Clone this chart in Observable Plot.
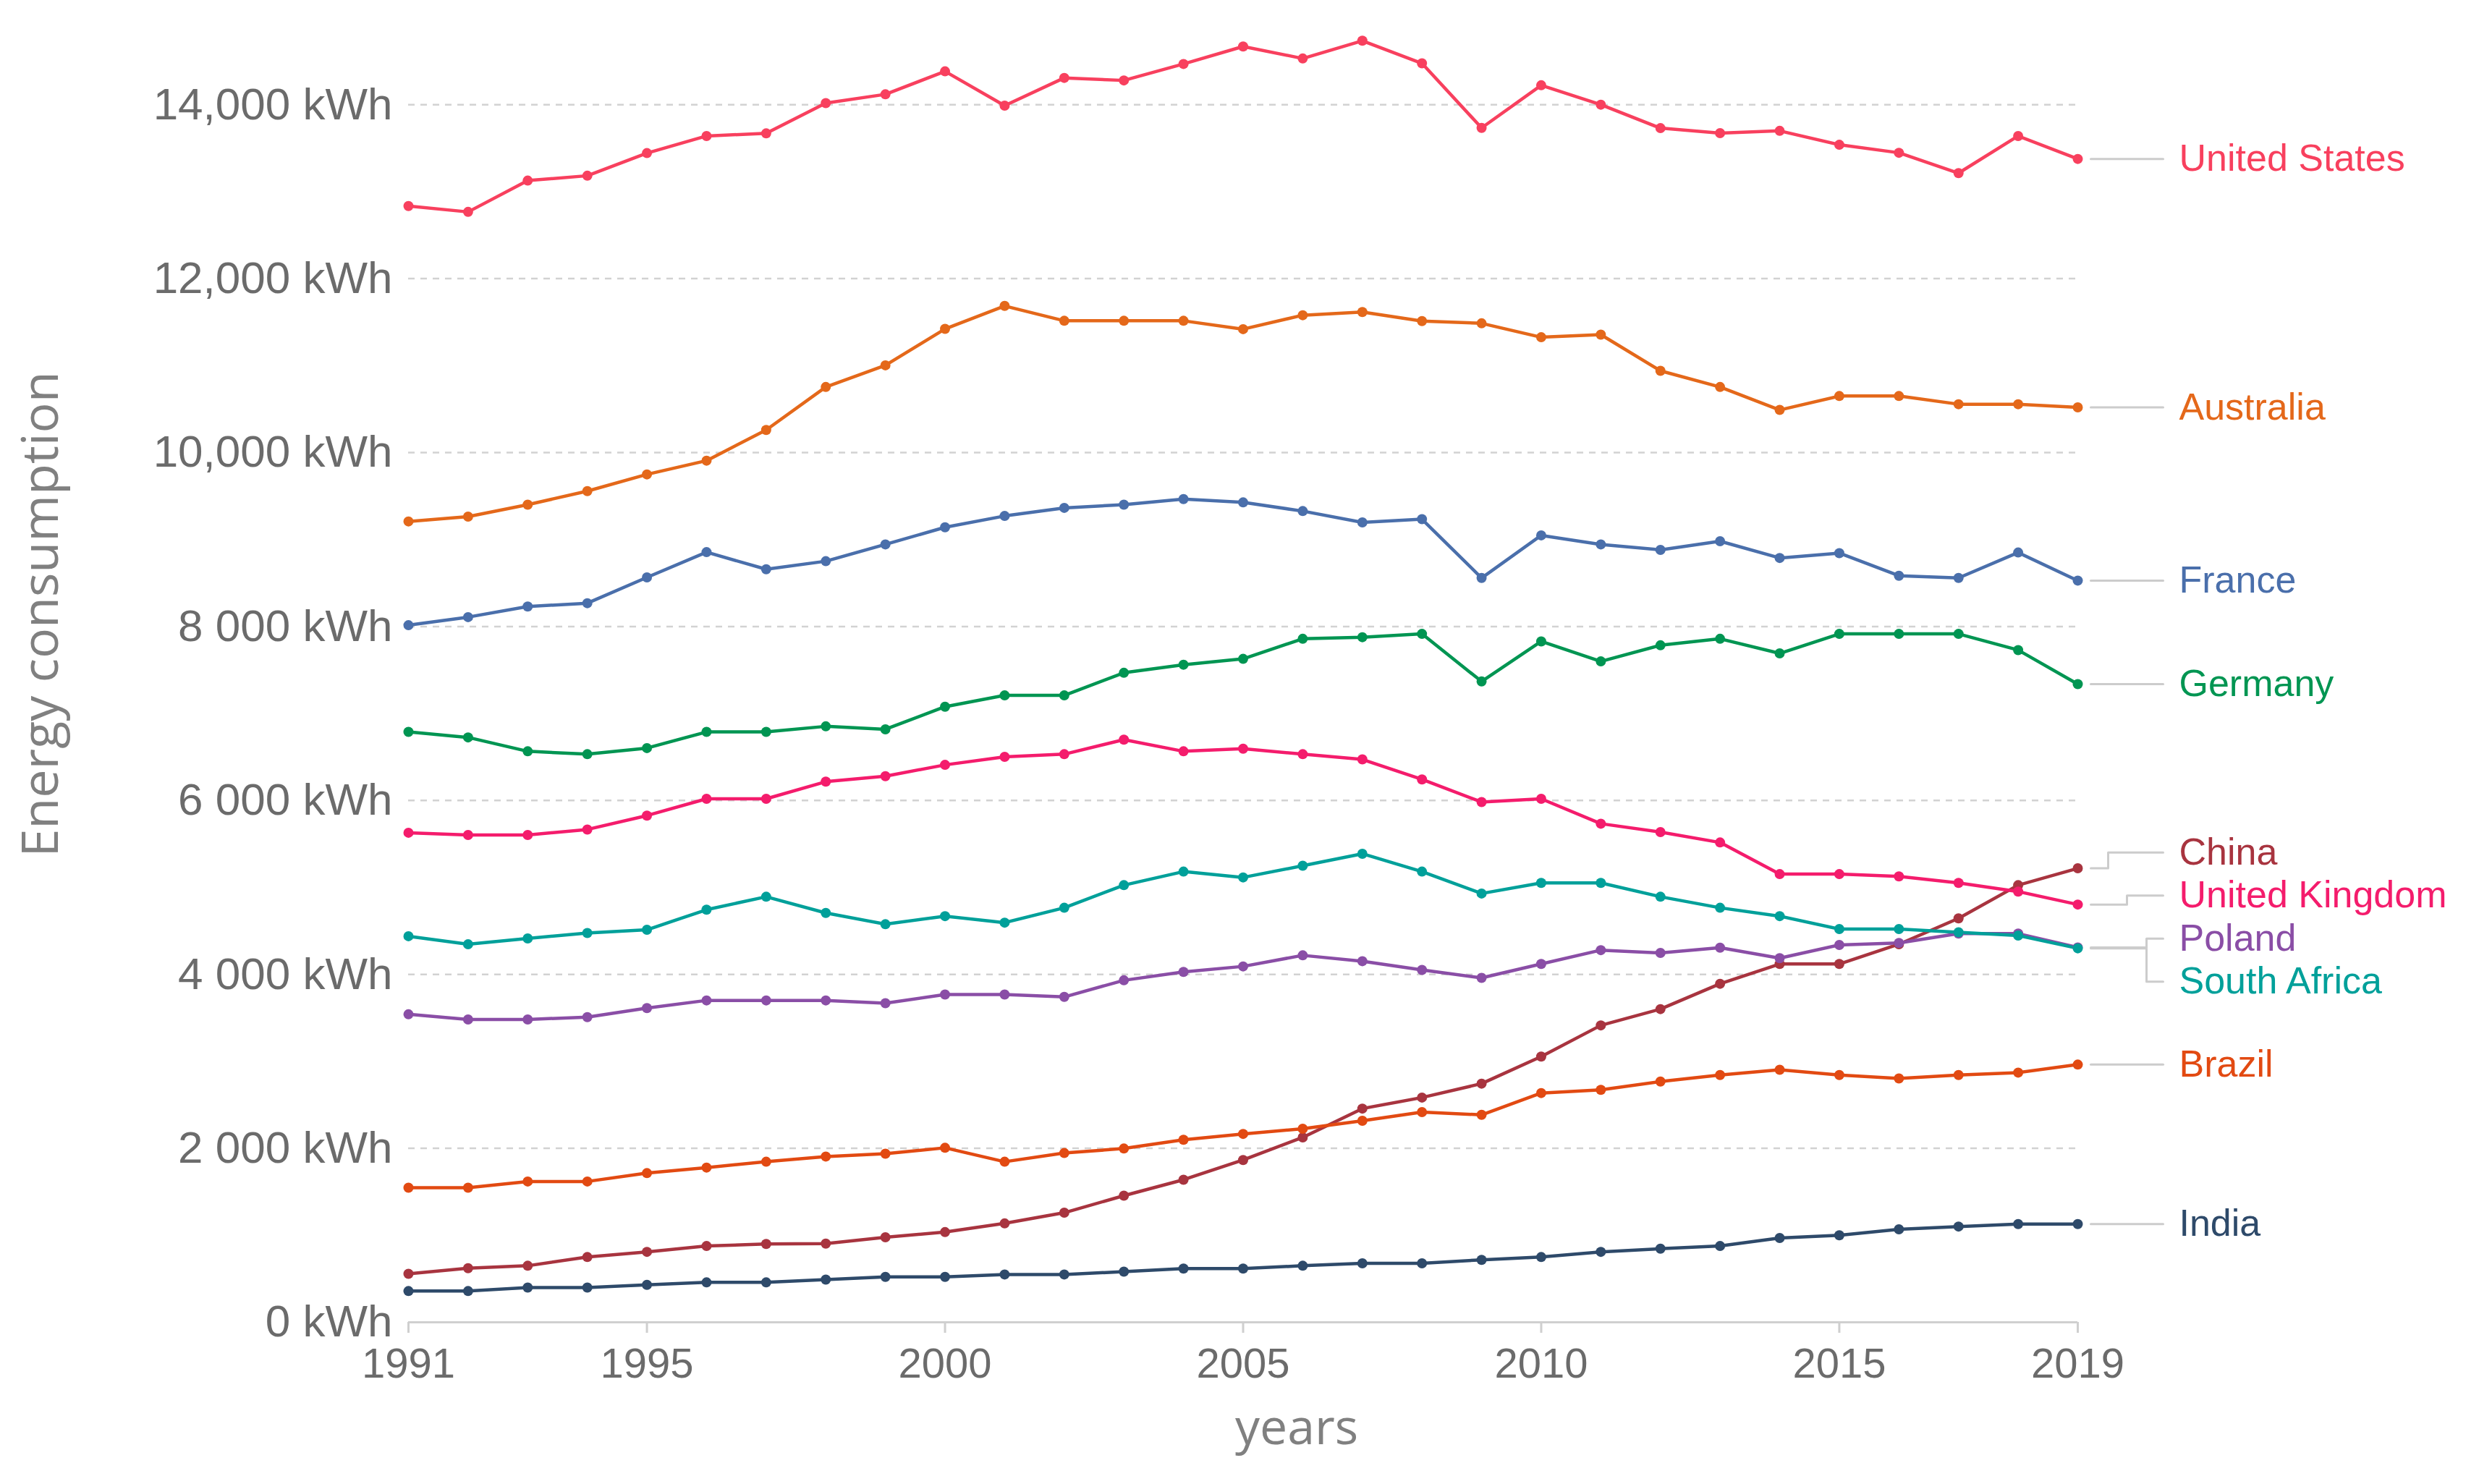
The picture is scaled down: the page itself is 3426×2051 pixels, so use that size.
<!DOCTYPE html>
<html>
<head>
<meta charset="utf-8">
<script src="https://cdn.jsdelivr.net/npm/d3@7"></script>
<script src="https://cdn.jsdelivr.net/npm/@observablehq/plot@0.6"></script>
<style>
  html, body { margin: 0; padding: 0; background: #ffffff; }
  #chart svg { display: block; }
</style>
</head>
<body>
<div id="chart"></div>
<script>
// ---------- data ----------
const years = [1991,1992,1993,1994,1995,1996,1997,1998,1999,2000,2001,2002,2003,2004,2005,2006,2007,2008,2009,2010,2011,2012,2013,2014,2015,2016,2017,2018,2019];

const countries = ["United States","Australia","France","Germany","China","United Kingdom","Poland","South Africa","Brazil","India"];
const colors    = ["#f8405e","#e4681a","#4a6fab","#009552","#a8343f","#f41c6c","#8a4ea6","#00a09a","#e24a12","#2e4a6a"];

const unitedStates = [12834,12767,13127,13183,13443,13640,13670,14018,14119,14383,13989,14308,14279,14468,14669,14531,14735,14475,13733,14223,14000,13730,13673,13699,13539,13447,13213,13640,13376];
const australia    = [9208,9264,9401,9557,9749,9907,10260,10754,11003,11422,11686,11515,11515,11515,11419,11579,11616,11512,11486,11326,11356,10940,10754,10490,10650,10650,10556,10556,10520];
const france       = [8015,8108,8230,8268,8565,8855,8658,8751,8944,9141,9271,9364,9401,9465,9427,9327,9197,9234,8558,9048,8944,8881,8981,8788,8844,8584,8558,8851,8528];
const germany      = [6788,6725,6565,6532,6602,6788,6788,6852,6818,7078,7208,7208,7468,7561,7628,7859,7877,7915,7368,7829,7599,7784,7859,7691,7915,7915,7915,7729,7338];
const china        = [558,622,650,750,810,877,901,905,977,1037,1137,1260,1456,1639,1866,2126,2457,2584,2744,3055,3414,3601,3892,4120,4120,4347,4644,5026,5220];
const unitedKingdom= [5629,5603,5603,5666,5826,6019,6019,6216,6279,6409,6502,6532,6699,6565,6595,6532,6472,6242,5982,6019,5733,5636,5517,5153,5153,5127,5052,4952,4803];
const poland       = [3541,3482,3482,3509,3613,3701,3701,3701,3669,3769,3769,3741,3932,4028,4092,4219,4152,4052,3960,4120,4279,4247,4307,4187,4339,4362,4469,4469,4310];
const southAfrica  = [4439,4346,4413,4476,4513,4744,4893,4707,4577,4670,4595,4766,5026,5182,5115,5249,5387,5182,4930,5052,5052,4893,4766,4670,4521,4521,4484,4447,4300];
const brazil       = [1547,1547,1619,1619,1715,1779,1846,1906,1938,2006,1846,1946,1998,2098,2166,2225,2317,2417,2385,2636,2672,2768,2843,2903,2843,2804,2843,2871,2963];
const india        = [359,359,399,399,431,459,459,491,522,522,550,550,582,618,618,650,678,678,718,750,810,846,877,969,1001,1069,1101,1129,1129];

const seriesValues = [unitedStates, australia, france, germany, china, unitedKingdom, poland, southAfrica, brazil, india];

const yTicks = [0,2000,4000,6000,8000,10000,12000,14000];
const yTickLabels = ["0 kWh","2 000 kWh","4 000 kWh","6 000 kWh","8 000 kWh","10,000 kWh","12,000 kWh","14,000 kWh"];
const xTicks = [1991,1995,2000,2005,2010,2015,2019];

// ---------- layout ----------
const W = 3426, H = 2051;
const mL = 564, mR = 555, mT = 48, mB = 224;
const pxPerYear = (W - mL - mR) / (years[years.length-1] - years[0]);
const lastYear = years[years.length-1];
const gapKWh = 495;

// long data
const data = [];
countries.forEach((c, i) => {
  seriesValues[i].forEach((v, j) => data.push({country: c, year: years[j], value: v}));
});

// end labels with dodge
const ends = countries.map((c, i) => ({country: c, color: colors[i], end: seriesValues[i][seriesValues[i].length-1]}))
  .sort((a, b) => b.end - a.end);
let groups = ends.map(d => ({members: [d]}));
function center(g) { return d3.mean(g.members, d => d.end); }
let changed = true;
while (changed) {
  changed = false;
  for (let k = 0; k < groups.length - 1; k++) {
    const a = groups[k], b = groups[k+1];
    const aBottom = center(a) - (a.members.length - 1) * gapKWh / 2;
    const bTop = center(b) + (b.members.length - 1) * gapKWh / 2;
    if (aBottom - bTop < gapKWh) {
      groups.splice(k, 2, {members: a.members.concat(b.members)});
      changed = true;
      break;
    }
  }
}
const labels = [];
groups.forEach(g => {
  const c = center(g), n = g.members.length;
  g.members.forEach((d, r) => {
    labels.push({...d, label: c + ((n - 1) / 2 - r) * gapKWh, rank: r, n});
  });
});

// connectors (offsets in px converted to years through the x scale's resolution)
const startPx = 18, endPx = 118, textPx = 140;
const elbowPx = [42, 68, 95];
const conn = [];
labels.forEach(d => {
  const e = elbowPx[Math.min(d.rank, 2)];
  const pts = (d.n > 1)
    ? [[startPx, d.end], [e, d.end], [e, d.label], [endPx, d.label]]
    : [[startPx, d.end], [endPx, d.label]];
  pts.forEach(([px, v]) => conn.push({country: d.country, x: lastYear + px / pxPerYear, y: v}));
});

const chart = Plot.plot({
  width: W,
  height: H,
  marginLeft: mL,
  marginRight: mR,
  marginTop: mT,
  marginBottom: mB,
  style: {fontFamily: "'Liberation Sans', Arial, sans-serif", background: "#ffffff", overflow: "visible"},
  x: {domain: [years[0], lastYear], label: null},
  y: {domain: [0, 14800], label: null},
  color: {domain: countries, range: colors},
  marks: [
    Plot.ruleY(yTicks.filter(d => d > 0), {stroke: "#d2d2d2", strokeWidth: 2.5, strokeDasharray: "9,8"}),
    Plot.ruleY([0], {stroke: "#d0d0d0", strokeWidth: 3}),
    Plot.axisX({ticks: xTicks, tickFormat: d => String(d), tickSize: 15, tickPadding: 20,
      stroke: "#cfcfcf", strokeWidth: 3, fill: "#6b6b6b", fontSize: 58, label: null}),
    Plot.axisY({ticks: yTicks, tickFormat: d => yTickLabels[yTicks.indexOf(d)], tickSize: 0, tickPadding: 22,
      fill: "#6b6b6b", fontSize: 62, label: null}),
    Plot.text(["Energy consumption"], {frameAnchor: "left", textAnchor: "middle", rotate: -90, dx: -507, dy: -89,
      fontSize: 70, fill: "#808080", fontFamily: "'Open Sans', sans-serif"}),
    Plot.text(["years"], {frameAnchor: "bottom", textAnchor: "middle", dx: 74, dy: 168,
      fontSize: 68, fill: "#808080", fontFamily: "'Open Sans', sans-serif"}),
    Plot.line(conn, {x: "x", y: "y", z: "country", stroke: "#cccccc", strokeWidth: 3}),
    Plot.line(data, {x: "year", y: "value", z: "country", stroke: "country", strokeWidth: 4.5}),
    Plot.dot(data, {x: "year", y: "value", fill: "country", r: 7}),
    Plot.text(labels, {x: lastYear, y: "label", text: "country", fill: "country", dx: textPx,
      textAnchor: "start", fontSize: 52})
  ]
});
document.getElementById("chart").appendChild(chart);
</script>
</body>
</html>
